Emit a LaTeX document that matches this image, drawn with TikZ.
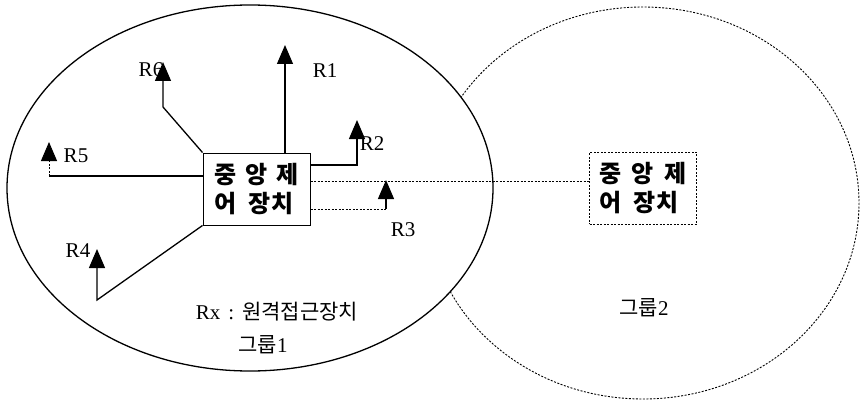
\documentclass[tikz,border=0pt]{standalone}
\usepackage{fontspec}
\setmainfont{Liberation Serif}
\newfontfamily\kr{Noto Sans CJK KR}
\usetikzlibrary{arrows.meta}
\begin{document}
\begin{tikzpicture}[x=1pt,y=-1pt,
  box/.style={draw, line width=1pt, minimum width=107pt, minimum height=72pt, inner sep=0pt, font=\kr\bfseries\fontsize{24}{29}\selectfont, align=left},
  conn/.style={line width=1.3pt, -{Triangle[length=19pt,width=16pt]}},
  dotl/.style={line width=0.9pt, dash pattern=on 2pt off 1.5pt},
  lab/.style={font=\fontsize{21}{21}\selectfont, inner sep=0pt},
  krlab/.style={font=\fontsize{21}{21}\selectfont, inner sep=0pt}]
\useasboundingbox (0,0) rectangle (861,401);
% group 2 (dotted) ellipse, partly hidden by group 1
\draw[dotl] (643,203) ellipse [x radius=216, y radius=196];
% group 1 ellipse
\filldraw[fill=white, line width=1.3pt] (250,188) ellipse [x radius=243, y radius=183];
% central controllers
\node[box] (c1) at (256.5,189) {중\hspace{8.5pt}앙\hspace{8.5pt}제\\어\hspace{12pt}장치};
\node[box, dotl] (c2) at (643,188) {중\hspace{10pt}앙\hspace{10pt}제\\어\hspace{12pt}장치};
% coordinates
\coordinate (t1) at (285,45);
\coordinate (k6) at (163,107);
\coordinate (t6) at (163,62);
\coordinate (k2) at (357,165);
\coordinate (t2) at (357,120);
\coordinate (lk) at (0,181);
\coordinate (k3) at (386,209);
\coordinate (t3) at (386,180);
\coordinate (k5) at (49,176);
\coordinate (t5) at (49,142);
\coordinate (k4) at (97,300);
\coordinate (t4) at (97,249);
% connectors
\draw[conn] (c1.north -| t1) -- (t1);
\draw[conn] (c1.north west) -- (k6) -- (t6);
\draw[conn] (c1.east |- k2) -- (k2) -- (t2);
\draw[dotl] (c1.east |- lk) -- (c2.west |- lk);
\draw[dotl] (c1.east |- k3) -- (k3);
\draw[conn] (k3) -- (t3);
\draw[line width=1.1pt] (c1.west |- k5) -- (k5);
\draw[dotl, -{Triangle[length=19pt,width=16pt]}] (k5) -- (t5);
\draw[conn] (c1.south west) -- (k4) -- (t4);
% labels
\node[lab] (l1) at (325,71) {R1};
\node[lab] (l6) at (151,70) {R6};
\node[lab] (l2) at (372,144) {R2};
\node[lab] (l5) at (76,156) {R5};
\node[lab] (l3) at (403,230) {R3};
\node[lab] (l4) at (78,251) {R4};
\node[krlab] (rx) at (277,312) {Rx\hspace{8pt}:\hspace{8pt}{\kr 원격접근장치}};
\node[krlab] (g1) at (263,345) {{\kr 그룹}1};
\node[krlab] (g2) at (644,308) {{\kr 그룹}2};
\end{tikzpicture}
\end{document}
